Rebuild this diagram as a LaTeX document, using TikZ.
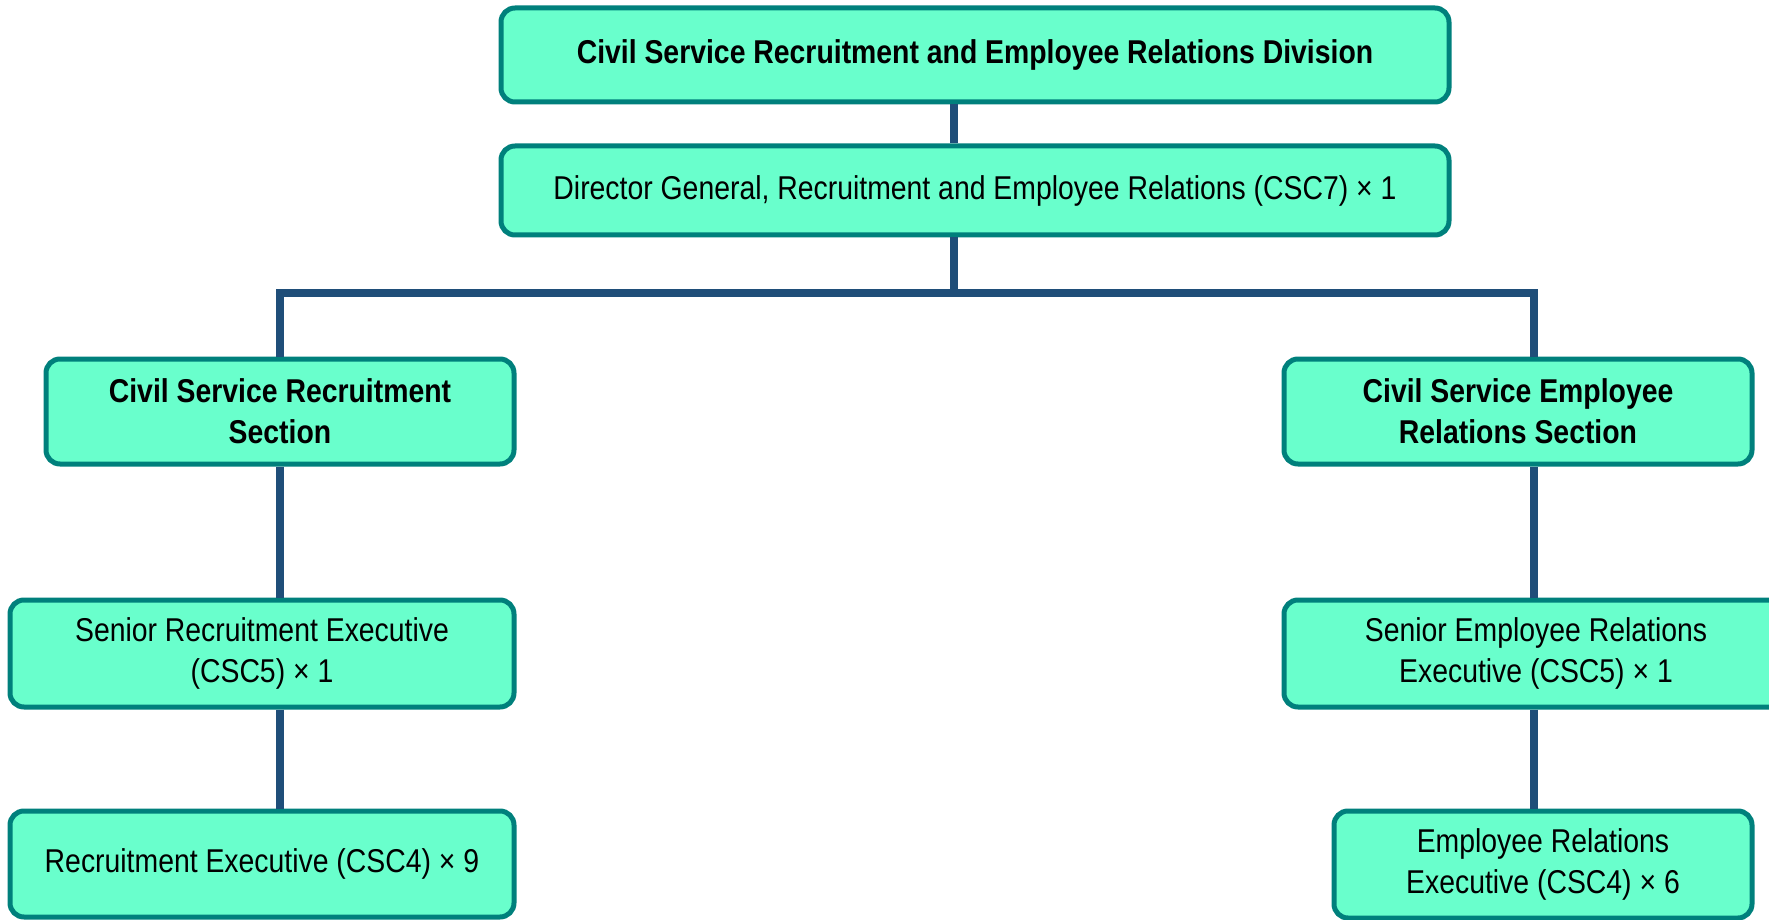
\documentclass[tikz,border=0pt]{standalone}
\usepackage{fontspec}
\setmainfont[FakeStretch=0.86]{Liberation Sans}
\usepackage{tikz}
\usetikzlibrary{positioning}

\definecolor{boxfill}{HTML}{69FFCC}
\definecolor{boxline}{HTML}{00807C}
\definecolor{linkblue}{HTML}{1F4E79}

\tikzset{
  unit/.style={draw=boxline, fill=boxfill, line width=2.5pt, rounded corners=7pt,
    align=center, inner sep=0pt, font=\fontsize{16.5}{20.5}\selectfont},
  head/.style={unit, font=\fontsize{16.5}{20.5}\selectfont\bfseries},
  link/.style={linkblue, line width=4pt},
}

\begin{document}
\begin{tikzpicture}[x=0.5pt, y=-0.5pt]
\useasboundingbox (0,0) rectangle (1769,920);
\node [head, minimum width=474pt, minimum height=47pt] (div) at (975,55)
  {Civil Service Recruitment and Employee Relations Division};
\node [unit, below of=div, node distance=67.75pt, minimum width=474pt, minimum height=44.5pt] (dg)
  {Director General, Recruitment and Employee Relations (CSC7) × 1};
\node [head, minimum width=234pt, minimum height=52.5pt] (rec) at (280,411.5)
  {Civil Service Recruitment\\Section};
\node [unit, minimum width=252pt, minimum height=53.5pt] (ser) at (262,653.5)
  {Senior Recruitment Executive\\(CSC5) × 1};
\node [unit, minimum width=252pt, minimum height=53pt] (rex) at (262,864)
  {Recruitment Executive (CSC4) × 9};
\node [head, minimum width=234pt, minimum height=52.5pt] (er) at (1518,411.5)
  {Civil Service Employee\\Relations Section};
\node [unit, minimum width=252pt, minimum height=53.5pt] (seer) at (1536,653.5)
  {Senior Employee Relations\\Executive (CSC5) × 1};
\node [unit, minimum width=209pt, minimum height=53.5pt] (erx) at (1543,864.5)
  {Employee Relations\\Executive (CSC4) × 6};
\coordinate (hub) at (954,293);
\coordinate (busR) at (1534,293);
\draw [link] (div.south -| hub) -- (dg.north -| hub);
\draw [link] (dg.south -| hub) -- (hub);
\draw [link] (rec.north) |- (busR) -- (er.north -| busR);
\draw [link] (rec.south) -- (ser.north -| rec.south);
\draw [link] (ser.south -| rec.south) -- (rex.north -| rec.south);
\draw [link] (er.south -| busR) -- (seer.north -| busR);
\draw [link] (seer.south -| busR) -- (erx.north -| busR);
\end{tikzpicture}
\end{document}
